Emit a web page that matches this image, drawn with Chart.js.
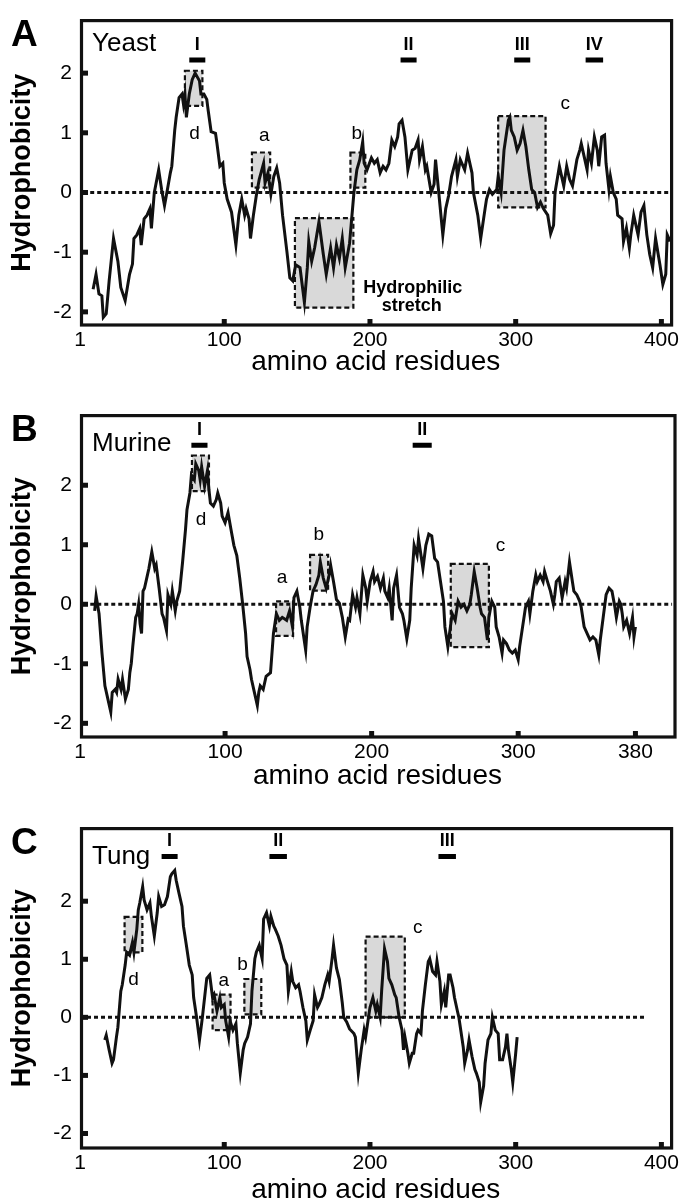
<!DOCTYPE html>
<html>
<head>
<meta charset="utf-8">
<script src="https://cdn.jsdelivr.net/npm/chart.js@4.4.1/dist/chart.umd.min.js"></script>
<style>
  html, body { margin: 0; padding: 0; background: #fff; }
  body { width: 682px; height: 1203px; position: relative; overflow: hidden; }
  .panel { position: absolute; left: 0; width: 682px; }
  canvas { display: block; }
</style>
</head>
<body>
<div class="panel" style="top:0"><canvas id="pA" width="682" height="395"></canvas></div>
<div class="panel" style="top:395px"><canvas id="pB" width="682" height="413"></canvas></div>
<div class="panel" style="top:808px"><canvas id="pC" width="682" height="400"></canvas></div>
<script>
// hydrophobicity profiles
const yeastResidue = [10,12,14,16,17,19,21,24,27,29,32,35,37,38,40,42,43,45,47,49,50,52,55,57,59,61,63,64,66,67,69,71,72,73,74,76,78,80,83,84,86,88,89,91,94,95,97,99,100,102,105,108,110,112,114,115,117,118,120,122,124,127,128,130,132,134,136,138,140,143,145,147,149,152,155,157,158,160,162,165,168,170,173,175,177,179,181,183,186,189,191,193,195,196,198,201,203,205,207,209,211,213,215,217,219,220,222,224,226,229,231,233,234,236,238,239,242,244,245,247,250,252,254,256,259,260,262,265,267,270,271,274,276,279,280,282,284,287,288,290,292,295,296,297,299,301,303,305,307,309,311,313,315,317,319,322,324,326,327,330,331,333,335,337,339,342,344,345,347,349,350,352,354,356,357,359,361,362,364,365,367,369,370,373,374,376,378,379,381,384,386,388,390,392,394,396,399,401,403,404,406]
const yeastHydro = [-1.62,-1.37,-1.70,-1.73,-2.09,-2.03,-1.48,-0.77,-1.15,-1.59,-1.81,-1.37,-1.20,-0.77,-0.71,-0.60,-0.88,-0.44,-0.38,-0.27,-0.60,0.00,0.38,0.05,-0.22,0.05,0.33,0.44,1.04,1.26,1.59,1.65,1.48,1.65,1.26,1.65,1.89,2.00,1.87,1.65,1.65,1.56,1.37,1.02,0.99,0.82,0.44,0.49,0.16,-0.11,-0.33,-0.88,-0.38,-0.11,-0.38,-0.27,-0.44,-0.77,-0.38,-0.05,0.22,0.49,0.16,0.33,-0.03,0.27,0.41,0.16,-0.38,-0.99,-1.43,-1.48,-1.21,-1.26,-1.84,-1.26,-0.82,-1.15,-0.93,-0.49,-1.04,-1.37,-0.93,-1.26,-0.88,-1.10,-0.77,-1.26,-0.85,0.00,0.38,0.55,0.85,0.49,0.38,0.58,0.49,0.55,0.33,0.44,0.38,0.49,0.88,0.77,0.93,1.15,1.21,0.93,0.38,0.71,0.74,0.88,0.55,0.77,0.38,0.44,0.00,0.14,0.55,0.05,-0.71,-0.27,-0.05,0.27,0.55,0.27,0.55,0.38,0.66,0.33,0.00,-0.38,-0.77,-0.27,-0.11,0.05,-0.03,0.05,0.27,0.00,0.71,1.21,1.26,1.04,0.93,0.71,0.82,1.04,0.77,0.38,0.05,0.00,-0.25,-0.16,-0.27,-0.38,-0.69,-0.55,0.00,0.44,0.33,0.11,0.44,0.22,0.11,0.55,0.71,0.82,0.60,0.38,0.71,0.49,0.93,0.71,0.44,0.93,0.96,0.49,0.05,0.27,0.00,-0.11,-0.38,-0.44,-0.82,-0.60,-0.93,-0.71,-0.38,-0.71,-0.33,-0.22,-0.71,-1.04,-1.26,-0.77,-1.21,-1.54,-1.37,-0.71,-0.82]

const murineResidue = [11,12,14,16,18,20,22,23,25,26,27,29,30,32,34,35,36,37,39,40,41,42,43,44,45,47,48,50,52,53,55,57,58,60,61,63,64,66,67,69,71,73,74,76,77,79,80,82,83,84,86,88,89,90,92,94,95,97,98,100,102,104,106,108,110,112,114,115,117,118,120,122,123,124,126,128,131,133,135,137,139,142,144,146,147,149,151,152,155,156,158,160,162,164,165,167,169,171,172,174,176,178,180,182,184,185,187,189,190,192,194,196,197,199,201,202,204,206,208,209,211,212,214,215,217,219,221,222,224,226,227,229,231,232,234,235,237,239,241,243,245,247,249,250,252,254,255,257,259,261,263,265,267,268,270,272,274,275,277,279,280,282,284,285,287,289,290,292,294,296,298,300,301,303,305,307,308,310,312,313,315,317,318,320,322,324,325,326,328,330,332,333,335,337,338,340,342,343,345,347,349,351,353,355,356,358,360,362,364,366,367,369,370,371,372,374,376,378,379,380]
const murineHydro = [-0.11,0.14,-0.16,-0.82,-1.37,-1.59,-1.81,-1.48,-1.43,-1.48,-1.26,-1.43,-1.26,-1.59,-1.43,-1.15,-0.99,-0.71,-0.22,-0.16,0.00,-0.33,-0.49,0.22,0.27,0.49,0.60,0.88,0.60,0.66,0.27,-0.16,-0.22,-0.44,0.16,0.00,0.22,-0.11,0.05,0.22,0.71,1.26,1.59,1.87,2.17,2.09,2.36,2.25,2.09,2.31,1.98,2.25,1.92,1.70,1.65,1.76,1.87,1.70,1.48,1.37,1.54,1.26,0.99,0.82,0.44,0.00,-0.49,-0.88,-1.10,-1.26,-1.48,-1.70,-1.48,-1.37,-1.43,-1.21,-1.15,-0.49,-0.16,-0.27,-0.22,-0.27,-0.11,-0.38,0.11,0.22,-0.05,-0.27,-0.77,-0.38,-0.05,0.22,0.33,0.49,0.71,0.44,0.27,0.49,0.66,0.38,0.08,0.02,-0.22,-0.55,-0.25,-0.27,0.16,-0.05,0.11,-0.16,0.49,0.27,0.05,0.38,0.55,0.38,0.47,0.27,0.44,0.22,0.11,0.27,-0.27,0.27,0.49,-0.05,-0.16,-0.27,-0.58,-0.27,0.27,0.99,0.82,1.10,0.77,0.60,0.99,1.18,1.15,0.77,0.71,0.38,0.05,-0.38,-0.71,-0.33,-0.16,-0.27,0.05,-0.05,0.00,-0.11,0.00,0.16,0.55,0.27,-0.05,-0.16,-0.22,-0.60,-0.22,0.05,-0.05,-0.38,-0.55,-0.82,-0.60,-0.66,-0.77,-0.82,-0.77,-0.93,-0.71,-0.38,-0.05,0.05,-0.16,0.22,0.49,0.38,0.49,0.38,0.55,0.38,0.22,0.00,0.16,0.38,0.44,0.11,0.38,0.27,0.71,0.38,0.22,0.16,0.05,-0.05,-0.38,-0.49,-0.60,-0.55,-0.60,-0.85,-0.60,-0.22,0.16,0.27,0.22,-0.05,-0.22,0.05,0.00,-0.16,-0.38,-0.27,-0.49,-0.22,-0.55,-0.38]

const tungResidue = [18,19,21,23,24,26,27,29,30,32,33,35,37,38,40,41,42,44,45,47,49,50,52,54,55,57,59,61,63,64,66,67,69,71,72,74,76,78,79,81,83,85,87,88,90,92,93,95,97,98,100,101,103,104,106,108,109,111,113,114,116,118,119,121,122,124,126,127,129,131,132,134,135,137,139,141,143,144,146,147,149,151,152,154,156,157,159,161,162,164,165,167,169,171,172,174,175,177,179,181,182,184,186,189,190,192,194,196,197,199,200,202,204,205,207,208,210,212,213,215,217,218,220,222,223,224,226,227,229,230,232,233,235,236,238,240,241,243,245,246,248,249,251,252,254,255,257,258,260,261,263,264,265,267,268,270,272,273,275,276,278,279,281,283,284,286,288,289,291,293,294,295,297,298,300,301]
const tungHydro = [-0.39,-0.31,-0.56,-0.79,-0.73,-0.34,-0.17,0.45,0.56,0.90,1.12,1.07,1.29,1.12,1.52,1.85,1.97,2.25,2.02,1.85,1.97,1.74,1.40,1.80,2.08,1.91,1.94,2.08,2.42,2.47,2.53,2.36,2.13,1.91,1.57,1.24,0.90,0.73,0.34,0.00,-0.39,0.00,0.45,0.67,0.73,0.34,0.39,0.11,0.34,0.17,0.22,-0.06,-0.34,-0.06,-0.22,-0.11,-0.45,-0.96,-0.56,-0.45,-0.34,-0.11,0.45,1.01,1.12,1.24,1.01,1.69,1.80,1.57,1.74,1.57,1.52,1.40,1.24,1.01,0.90,0.45,0.79,0.62,0.51,0.56,0.45,0.17,-0.06,-0.39,-0.22,-0.06,0.39,0.17,0.22,0.34,0.56,0.73,0.62,1.01,1.24,0.85,0.65,0.25,0.00,-0.08,-0.20,-0.28,-0.34,-0.96,-0.56,-0.22,-0.34,0.00,0.17,0.34,0.11,0.22,0.00,0.45,1.18,0.96,0.67,0.56,0.39,0.34,0.00,-0.22,-0.56,-0.34,-0.62,-0.79,-0.62,-0.62,-0.28,-0.22,-0.28,0.11,0.56,0.96,1.01,0.79,0.73,0.96,0.62,0.22,0.45,0.17,0.73,0.73,0.51,0.34,0.11,0.00,-0.34,-0.51,-0.79,-0.56,-0.39,-0.67,-0.90,-0.96,-1.12,-1.46,-1.18,-0.79,-0.39,-0.28,0.00,-0.22,-0.28,-0.73,-0.73,-0.51,-0.28,-0.56,-0.90,-1.12,-0.62,-0.34]

const yTicks = [-2, -1, 0, 1, 2]
const yeastTicks = [1, 100, 200, 300, 400]
const murineTicks = [1, 100, 200, 300, 380]
const tungTicks = [1, 100, 200, 300, 400]

// transmembrane segments: [name, from, to]
const yeastSegments = [['I', 76, 87], ['II', 221, 232], ['III', 299, 310], ['IV', 348, 360]]
const murineSegments = [['I', 77, 88], ['II', 228, 241]]
const tungSegments = [['I', 57, 68], ['II', 131, 143], ['III', 247, 259]]

// boxed motifs: [label, from, to, top, bottom, labelX, labelY]
const yeastBoxes = [['d', 73, 85, 2.04, 1.45, 79.6, 0.99], ['a', 119, 131.5, 0.67, 0.08, 127.5, 0.95],
  ['b', 186.6, 196.8, 0.67, 0.08, 191, 0.99], ['', 148.5, 188.6, -0.43, -1.93, 0, 0],
  ['c', 288, 320.5, 1.28, -0.25, 334, 1.48]]
const murineBoxes = [['d', 77.4, 89, 2.5, 1.9, 83.6, 1.42], ['a', 134.8, 146.4, 0.05, -0.53, 138.9, 0.45],
  ['b', 158, 170.3, 0.83, 0.23, 164, 1.17], ['c', 254, 280, 0.68, -0.72, 288, 0.98]]
const tungBoxes = [['d', 31.6, 43.8, 1.73, 1.12, 37.7, 0.64], ['a', 92, 104.3, 0.39, -0.22, 99.6, 0.63],
  ['b', 113.8, 125.4, 0.66, 0.05, 112.5, 0.9], ['c', 197, 223.9, 1.39, 0, 232.8, 1.54]]

const FONT = 'Liberation Sans, Arial, Helvetica, sans-serif'

const decor = {
  id: 'decor',
  beforeDatasetsDraw(chart, args, o) {
    const { ctx, scales: { x, y } } = chart
    ctx.save()
    o.boxes.forEach(b => {
      const x0 = x.getPixelForValue(b[1]), x1 = x.getPixelForValue(b[2])
      const y0 = y.getPixelForValue(b[3]), y1 = y.getPixelForValue(b[4])
      ctx.fillStyle = '#d9d9d9'
      ctx.fillRect(x0, y0, x1 - x0, y1 - y0)
      ctx.setLineDash([5, 3])
      ctx.lineWidth = 2.2
      ctx.strokeStyle = '#111'
      ctx.strokeRect(x0, y0, x1 - x0, y1 - y0)
    })
    ctx.restore()
  },
  afterDraw(chart, args, o) {
    const { ctx, chartArea: a, scales: { x, y } } = chart
    ctx.save()
    // frame
    ctx.lineWidth = 3.2
    ctx.strokeStyle = '#111'
    ctx.strokeRect(a.left + 1.5, a.top, a.right - a.left - 1.5, a.bottom - a.top)
    // inward tick marks
    ctx.fillStyle = '#111'
    x.ticks.forEach(t => { if (t.value > 1) ctx.fillRect(x.getPixelForValue(t.value) - 2.5, a.bottom - 6, 5, 6) })
    y.ticks.forEach(t => ctx.fillRect(a.left + 2, y.getPixelForValue(t.value) - 2.5, 6, 5))
    // box labels
    ctx.fillStyle = '#000'
    ctx.textAlign = 'center'
    ctx.textBaseline = 'middle'
    ctx.font = '19px ' + FONT
    o.boxes.forEach(b => { if (b[0]) ctx.fillText(b[0], x.getPixelForValue(b[5]), y.getPixelForValue(b[6])) })
    // segment names
    ctx.font = 'bold 18px ' + FONT
    ctx.textBaseline = 'alphabetic'
    o.segments.forEach(s => ctx.fillText(s[0], x.getPixelForValue((s[1] + s[2]) / 2), y.getPixelForValue(o.segY) - 10))
    if (o.stretch) {
      ctx.textBaseline = 'middle'
      ctx.fillText('Hydrophilic', x.getPixelForValue(229.4), y.getPixelForValue(-1.6))
      ctx.fillText('stretch', x.getPixelForValue(228.7), y.getPixelForValue(-1.9))
    }
    // panel letter and species
    ctx.textAlign = 'left'
    ctx.textBaseline = 'alphabetic'
    ctx.font = 'bold 37px ' + FONT
    ctx.fillText(o.letter, 11, a.top + 25)
    ctx.font = '26px ' + FONT
    ctx.fillText(o.species, a.left + 12, a.top + o.nameDy)
    ctx.restore()
  }
}

function makePanel(id, p) {
  const datasets = [
    { data: p.zero.map(v => ({ x: v, y: 0 })), borderColor: '#111', borderWidth: 3, borderDash: [4, 3], pointRadius: 0 },
    { data: p.res.map((r, i) => ({ x: r, y: p.hyd[i] })), borderColor: '#111', borderWidth: 3, pointRadius: 0, tension: 0 }
  ]
  p.segments.forEach(s => datasets.push({
    data: [{ x: s[1], y: p.segY }, { x: s[2], y: p.segY }],
    borderColor: '#000', borderWidth: 5, pointRadius: 0, borderCapStyle: 'butt'
  }))
  new Chart(document.getElementById(id), {
    type: 'line',
    data: { datasets },
    options: {
      responsive: false,
      animation: false,
      events: [],
      layout: { padding: { top: p.top, right: 682 - p.right, left: 0, bottom: 0 } },
      plugins: {
        legend: { display: false },
        tooltip: { enabled: false },
        decor: { boxes: p.boxes, segments: p.segments, segY: p.segY, letter: p.letter, species: p.species, nameDy: p.nameDy, stretch: p.stretch }
      },
      scales: {
        x: {
          type: 'linear', min: 1, max: p.xMax,
          grid: { display: false, drawTicks: false }, border: { display: false },
          afterBuildTicks: s => { s.ticks = p.xTicks.map(v => ({ value: v })) },
          afterFit: s => { s.height = p.h - p.bottom },
          ticks: { font: { size: 21, family: FONT }, color: '#000', padding: 3, maxRotation: 0, autoSkip: false },
          title: { display: true, text: 'amino acid residues', color: '#000', font: { size: 28, family: FONT, lineHeight: 1 }, padding: { top: 0, bottom: p.titlePad } }
        },
        y: {
          min: p.yMin, max: p.yMax,
          grid: { display: false, drawTicks: false }, border: { display: false },
          afterBuildTicks: s => { s.ticks = yTicks.map(v => ({ value: v })) },
          afterFit: s => { s.width = 80 },
          ticks: { font: { size: 21, family: FONT }, color: '#000', padding: 8 },
          title: { display: true, text: 'Hydrophobicity', color: '#000', font: { size: 27, weight: 'bold', family: FONT, lineHeight: 1 }, padding: { top: 9, bottom: 0 } }
        }
      }
    },
    plugins: [decor]
  })
}

makePanel('pA', { res: yeastResidue, hyd: yeastHydro, xTicks: yeastTicks, segments: yeastSegments, boxes: yeastBoxes,
  letter: 'A', species: 'Yeast', nameDy: 30, stretch: true, segY: 2.22, zero: [8, 407],
  h: 395, top: 15, bottom: 325, right: 677, xMax: 407, yMin: -2.22, yMax: 2.88, titlePad: 19 })
makePanel('pB', { res: murineResidue, hyd: murineHydro, xTicks: murineTicks, segments: murineSegments, boxes: murineBoxes,
  letter: 'B', species: 'Murine', nameDy: 35, stretch: false, segY: 2.67, zero: [8, 405],
  h: 413, top: 18, bottom: 342, right: 675, xMax: 407, yMin: -2.23, yMax: 3.17, titlePad: 18 })
makePanel('pC', { res: tungResidue, hyd: tungHydro, xTicks: tungTicks, segments: tungSegments, boxes: tungBoxes,
  letter: 'C', species: 'Tung', nameDy: 35, stretch: false, segY: 2.77, zero: [1, 390],
  h: 400, top: 15, bottom: 340, right: 677, xMax: 407, yMin: -2.25, yMax: 3.25, titlePad: 4 })
</script>
</body>
</html>
